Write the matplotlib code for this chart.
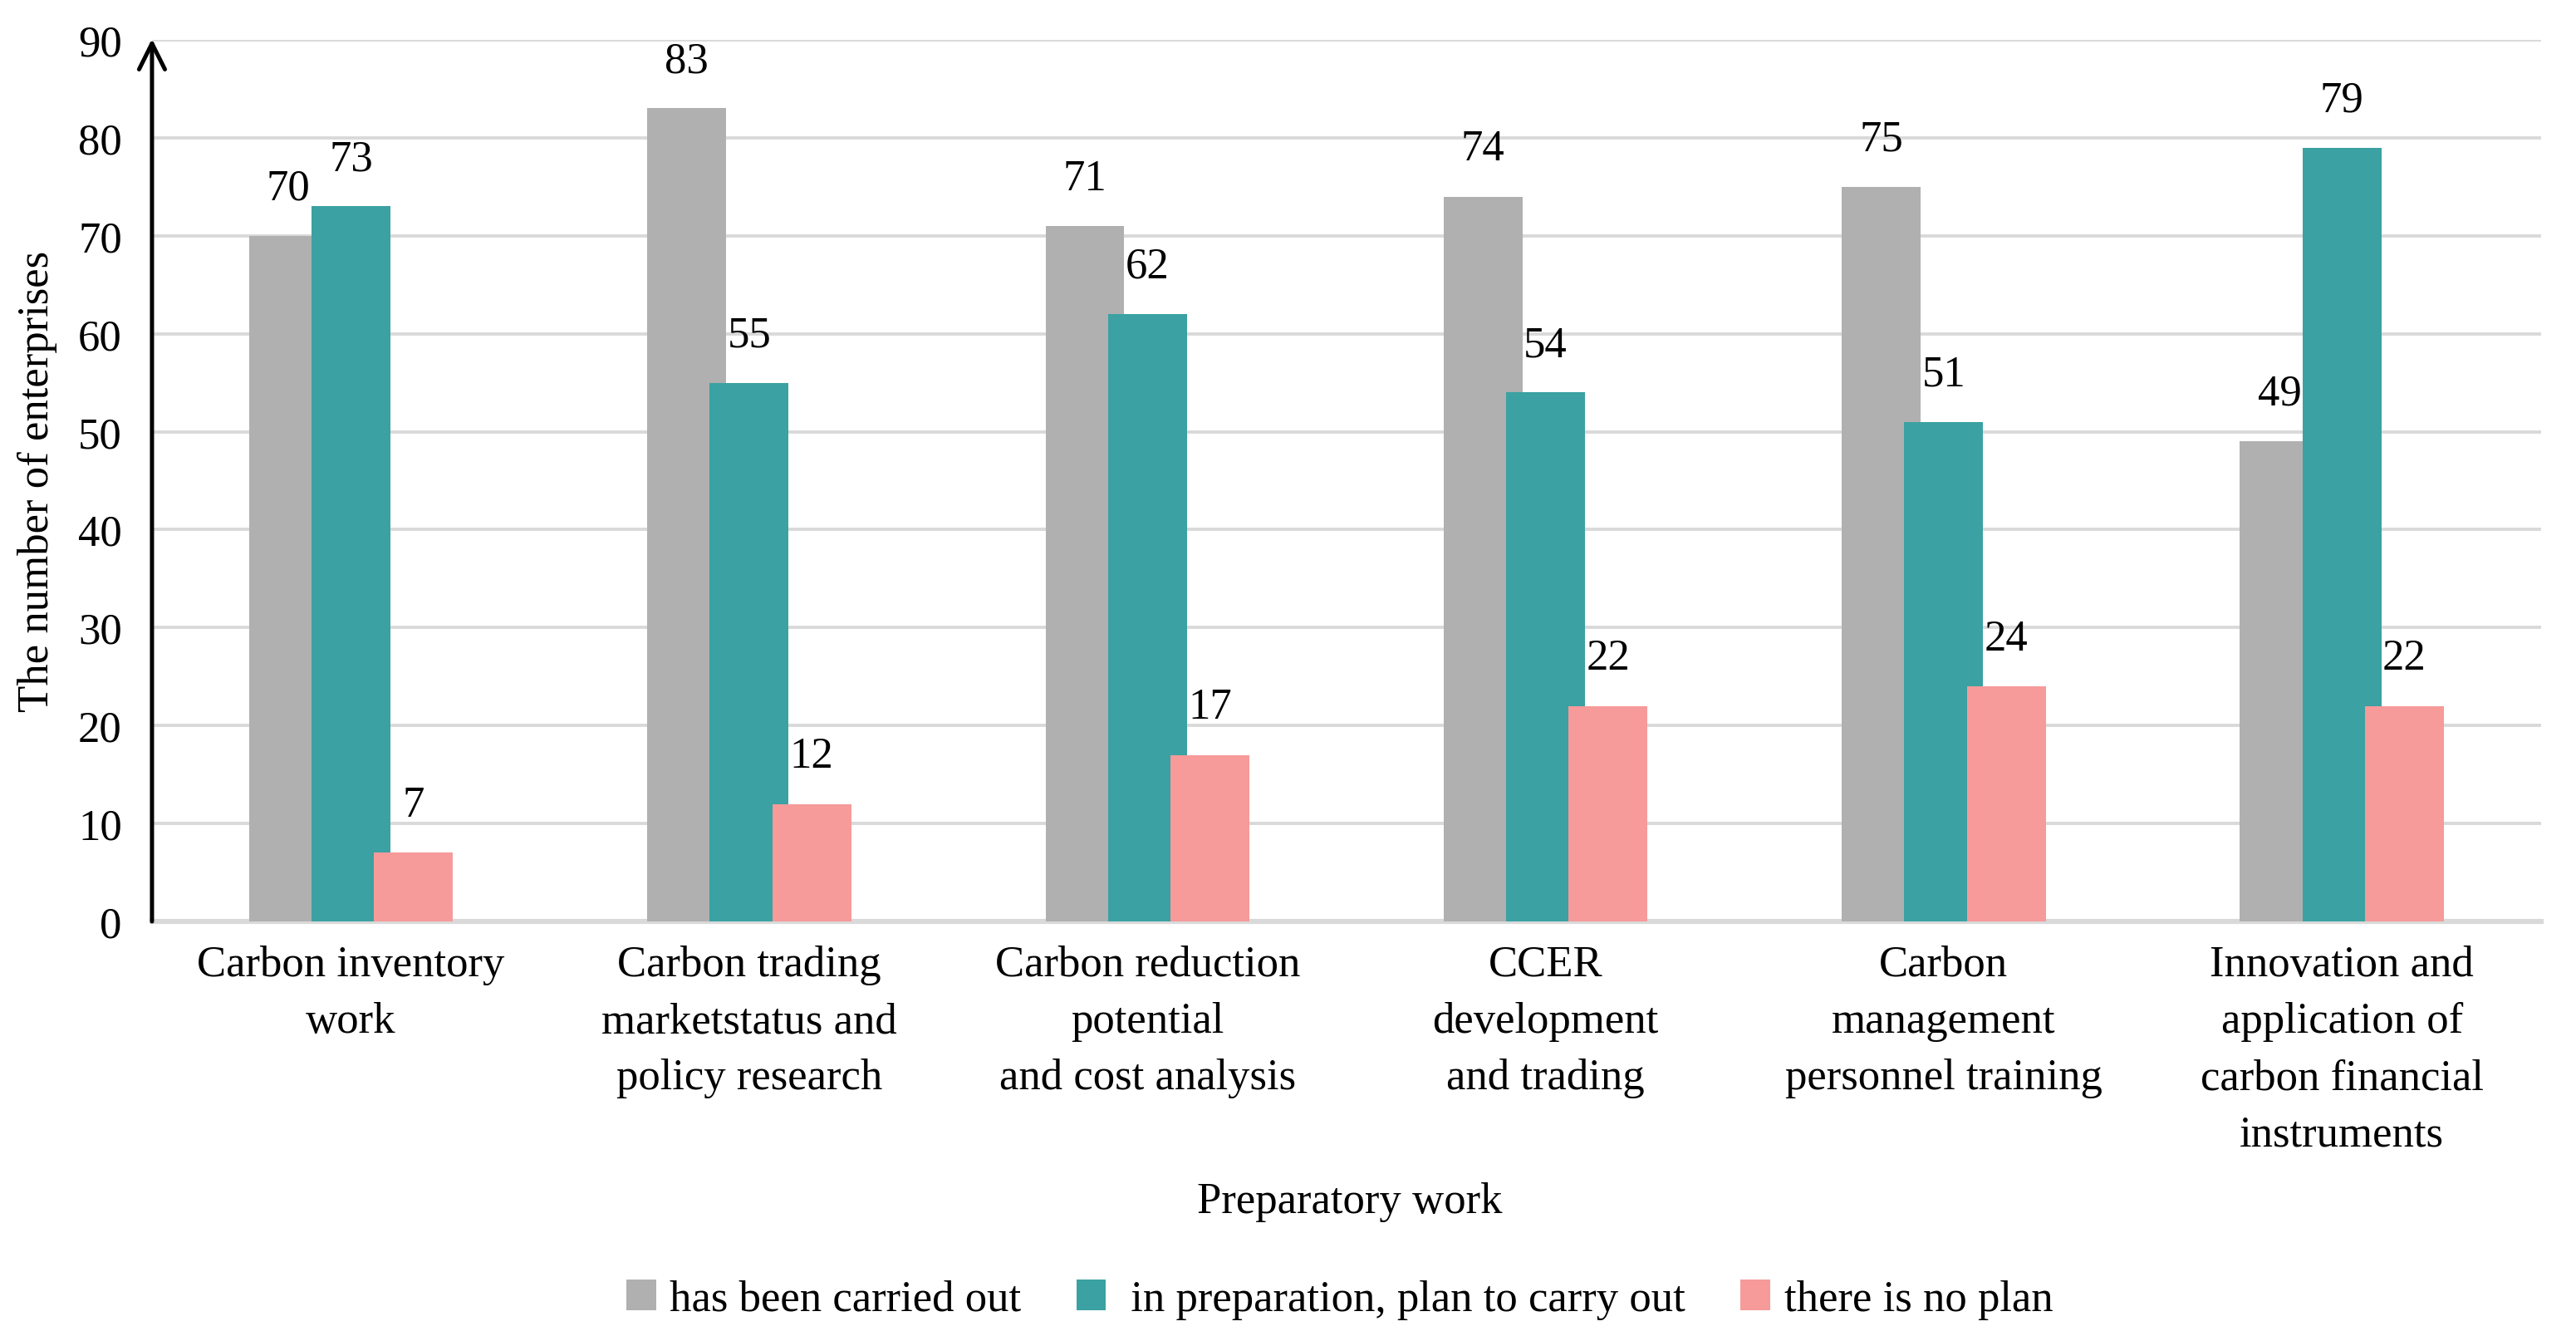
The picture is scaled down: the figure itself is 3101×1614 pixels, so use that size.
import matplotlib
matplotlib.use("Agg")
import matplotlib.pyplot as plt
from matplotlib import font_manager
import numpy as np

categories = [
    "Carbon inventory\nwork",
    "Carbon trading\nmarketstatus and\npolicy research",
    "Carbon reduction\npotential\nand cost analysis",
    "CCER\ndevelopment\nand trading",
    "Carbon\nmanagement\npersonnel training",
    "Innovation and\napplication of\ncarbon financial\ninstruments",
]
series_names = ["has been carried out", " in preparation, plan to carry out", "there is no plan"]
carried_out = [70, 83, 71, 74, 75, 49]
in_preparation = [73, 55, 62, 54, 51, 79]
no_plan = [7, 12, 17, 22, 24, 22]
yticks = [0, 10, 20, 30, 40, 50, 60, 70, 80, 90]

colors = ["#b0b0b0", "#3ba1a2", "#f69a9a"]

serif_name = None
for f in font_manager.fontManager.ttflist:
    if f.name == "Liberation Serif":
        serif_name = f.name
        break
if serif_name is None:
    serif_name = "DejaVu Serif"
plt.rcParams['font.family'] = [serif_name, 'DejaVu Serif']

FS = 19

fig = plt.figure(figsize=(15.505, 8.075), dpi=200)
ax = fig.add_axes([0.059, 0.3127, 0.9274, 0.657])

x = np.arange(len(categories))
offsets = [-0.157, 0.0, 0.157]
width = 0.198
all_series = [carried_out, in_preparation, no_plan]
for i, (vals, name, c) in enumerate(zip(all_series, series_names, colors)):
    bars = ax.bar(x + offsets[i], vals, width=width, color=c, label=name, zorder=2 + i)
    for b, v in zip(bars, vals):
        ax.annotate(str(v), (b.get_x() + b.get_width() / 2, v), xytext=(0, 12),
                    textcoords="offset points", ha="center", va="bottom",
                    fontsize=FS, zorder=10)

ax.set_xlim(-0.5, 5.5)
ax.set_ylim(0, 90)
ax.set_yticks(yticks)
ax.set_xticks(x)
ax.set_xticklabels(categories, fontsize=FS, linespacing=1.55)
ax.tick_params(axis='y', length=0, pad=13, labelsize=FS)
ax.tick_params(axis='x', length=0, pad=10)
ax.yaxis.grid(True, color="#d9d9d9", linewidth=1.4, zorder=0)
ax.set_axisbelow(True)
for s in ["top", "right", "left"]:
    ax.spines[s].set_visible(False)
ax.spines["bottom"].set_color("#d9d9d9")
ax.spines["bottom"].set_linewidth(2.2)
ax.spines["bottom"].set_zorder(1)

ax.annotate("", xy=(-0.5, 90.1), xytext=(-0.5, 0), xycoords="data",
            arrowprops=dict(arrowstyle="->", color="black", lw=1.8,
                            mutation_scale=28, shrinkA=0, shrinkB=0),
            annotation_clip=False, zorder=12)

ax.set_ylabel("The number of enterprises", fontsize=FS, labelpad=9)
fig.text(0.524, 0.104, "Preparatory work", ha="center", va="center", fontsize=FS)

leg = fig.legend(loc="center", bbox_to_anchor=(0.52, 0.031), ncol=3, frameon=False,
                 fontsize=FS, handlelength=0.68, handleheight=0.7, handletextpad=0.32,
                 columnspacing=1.25)

fig.savefig("out.png", dpi=200)
